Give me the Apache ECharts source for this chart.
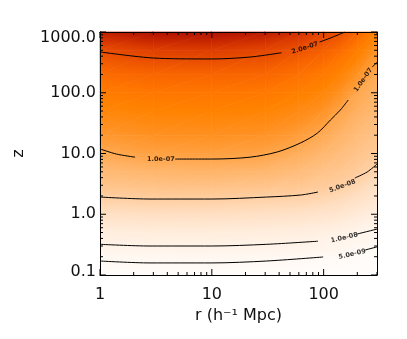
<!DOCTYPE html>
<html>
<head>
<meta charset="utf-8">
<script src="https://cdn.jsdelivr.net/npm/echarts@6/dist/echarts.min.js"></script>
<style>
  html, body { margin: 0; padding: 0; background: #fff; }
  #chart { width: 407px; height: 339px; }
</style>
</head>
<body>
<div id="chart"></div>
<script>
// axis ranges
const rMin = 1, rMax = 300
const zMin = 0.1, zMax = 1000

// nodes of the shaded field
const rNodes = [1, 3, 10, 30, 60, 100, 140, 200, 300]
const zNodes = [0.1, 0.2, 0.5, 1, 2, 5, 10, 20, 50, 100, 200, 500, 1000]

// field value (units of 1e-8) along z, one list per r node
const fieldR1 = [0.28, 0.63, 2.0, 3.55, 5.1, 7.6, 9.5, 11.4, 13.9, 15.8, 17.7, 20.2, 23.5]
const fieldR3 = [0.3, 0.68, 2.15, 3.7, 5.4, 8.2, 10.4, 12.3, 14.7, 16.5, 18.3, 21.3, 24.5]
const fieldR10 = [0.3, 0.68, 2.15, 3.7, 5.4, 8.4, 10.55, 12.4, 14.8, 16.6, 18.4, 21.5, 24.5]
const fieldR30 = [0.28, 0.63, 2.0, 3.55, 5.1, 8.0, 10.2, 12.0, 14.5, 16.3, 18.2, 20.8, 23.8]
const fieldR60 = [0.26, 0.59, 1.9, 3.4, 4.95, 7.3, 9.05, 10.9, 13.4, 15.3, 17.2, 19.8, 22.5]
const fieldR100 = [0.23, 0.5, 1.65, 3.1, 4.6, 6.5, 8.0, 9.45, 12.0, 14.1, 16.1, 18.9, 21.0]
const fieldR140 = [0.23, 0.48, 1.4, 2.85, 4.3, 6.0, 7.2, 8.4, 10.0, 12.3, 14.6, 17.7, 20.0]
const fieldR200 = [0.19, 0.39, 1.08, 2.4, 3.7, 5.3, 6.4, 7.4, 8.8, 9.8, 12.1, 15.7, 18.4]
const fieldR300 = [0.17, 0.34, 0.9, 1.9, 3.0, 4.5, 5.5, 6.4, 7.6, 8.5, 9.4, 11.9, 15.0]
const fieldCols = [fieldR1, fieldR3, fieldR10, fieldR30, fieldR60, fieldR100, fieldR140, fieldR200, fieldR300]

// contour lines [r, z], split where the label sits
const c2e7 = [
  [[1, 469], [2, 400], [3, 373], [5, 362], [10, 360], [22, 387], [42, 456]],
  [[92, 684], [115, 797], [155, 1000]],
]
const c1e7 = [
  [[1, 11.9], [1.4, 9.8], [2.06, 8.7]],
  [[4.7, 8.1], [10, 8.1], [22, 8.7], [38.5, 10.6], [62, 14.9], [88, 21.7], [115, 35.6], [141, 52], [166, 76]],
  [[272, 265], [300, 318]],
]
const c5e8 = [
  [[1, 1.92], [2.8, 1.78], [10, 1.78], [31, 1.92], [62, 2.07], [89, 2.32]],
  [[190, 3.95], [245, 4.96], [300, 6.7]],
]
const c1e8 = [
  [[1, 0.32], [2.8, 0.30], [10, 0.30], [31, 0.32], [89, 0.36]],
  [[197, 0.47], [300, 0.57]],
]
const c5e9 = [
  [[1, 0.17], [2.8, 0.158], [10, 0.158], [31, 0.17], [99, 0.198]],
  [[235, 0.258], [300, 0.29]],
]

// contour labels
const labelText = ['2.0e-07', '1.0e-07', '1.0e-07', '5.0e-08', '1.0e-08', '5.0e-09']
const labelPos = [[68, 546], [3.5, 8.1], [226, 162], [147, 2.9], [153, 0.41], [180, 0.22]]
const labelAngle = [18, 0, 55, 20, 13, 13]

// tick values
const majorR = [1, 10, 100]
const minorR = [2, 3, 4, 5, 6, 7, 8, 9, 20, 30, 40, 50, 60, 70, 80, 90, 200, 300]
const majorZ = [0.1, 1, 10, 100, 1000]
const minorZ = [0.2, 0.3, 0.4, 0.5, 0.6, 0.7, 0.8, 0.9, 2, 3, 4, 5, 6, 7, 8, 9,
  20, 30, 40, 50, 60, 70, 80, 90, 200, 300, 400, 500, 600, 700, 800, 900]

// colour table (field value -> colour)
const rampF = [0, 0.3, 0.7, 2.1, 3.7, 5.4, 8.4, 10.5, 12.4, 14.8, 16.6, 18.4, 21.5, 24.5]
const rampC = ['#ffffff', '#fffcf9', '#fff7f0', '#ffeddd', '#ffdfc2', '#ffcb9a', '#ffb468',
  '#ffa040', '#ff9020', '#ff8200', '#ff7600', '#f86400', '#dd3c00', '#b01000']

const FONT = 'DejaVu Sans'

function hexRgb(h) {
  return [parseInt(h.slice(1, 3), 16), parseInt(h.slice(3, 5), 16), parseInt(h.slice(5, 7), 16)]
}
const rampRgb = rampC.map(hexRgb)

function rampColor(v) {
  if (v <= rampF[0]) return rampC[0]
  const n = rampF.length
  if (v >= rampF[n - 1]) return rampC[n - 1]
  let k = 0
  while (v > rampF[k + 1]) k++
  const t = (v - rampF[k]) / (rampF[k + 1] - rampF[k])
  const a = rampRgb[k], b = rampRgb[k + 1]
  const c = a.map((x, i) => Math.round(x + (b[i] - x) * t))
  return `rgb(${c[0]},${c[1]},${c[2]})`
}

// linear shading across a triangle: gradient along the direction the value changes
function triangleFill(p, v) {
  const e2x = p[1][0] - p[0][0], e2y = p[1][1] - p[0][1]
  const e3x = p[2][0] - p[0][0], e3y = p[2][1] - p[0][1]
  const d2 = v[1] - v[0], d3 = v[2] - v[0]
  const det = e2x * e3y - e2y * e3x
  const lo = Math.min(...v), hi = Math.max(...v)
  if (Math.abs(det) < 1e-9 || hi - lo < 1e-6) return rampColor(lo)
  const gx = (d2 * e3y - d3 * e2y) / det
  const gy = (e2x * d3 - e3x * d2) / det
  const g2 = gx * gx + gy * gy
  const a = (lo - v[0]) / g2, b = (hi - v[0]) / g2
  const stops = [{ offset: 0, color: rampColor(lo) }]
  rampF.forEach((f) => {
    if (f > lo && f < hi) stops.push({ offset: (f - lo) / (hi - lo), color: rampColor(f) })
  })
  stops.push({ offset: 1, color: rampColor(hi) })
  return new echarts.graphic.LinearGradient(
    p[0][0] + gx * a, p[0][1] + gy * a, p[0][0] + gx * b, p[0][1] + gy * b, stops, true)
}

// two triangles per grid cell
const triangles = []
for (let i = 0; i < rNodes.length - 1; i++) {
  for (let j = 0; j < zNodes.length - 1; j++) {
    const A = [rNodes[i], zNodes[j], fieldCols[i][j]]
    const B = [rNodes[i + 1], zNodes[j], fieldCols[i + 1][j]]
    const C = [rNodes[i + 1], zNodes[j + 1], fieldCols[i + 1][j + 1]]
    const D = [rNodes[i], zNodes[j + 1], fieldCols[i][j + 1]]
    triangles.push([...A, ...B, ...C], [...A, ...C, ...D])
  }
}

const xTicks = majorR.map(r => [r, zMin, 1]).concat(minorR.map(r => [r, zMin, 0]))
const yTicks = majorZ.map(z => [rMin, z, 1]).concat(minorZ.map(z => [rMin, z, 0]))

const chart = echarts.init(document.getElementById('chart'), null, { renderer: 'canvas' })

const contourSeries = []
;[c2e7, c1e7, c5e8, c1e8, c5e9].forEach((segs) => {
  segs.forEach((seg) => {
    contourSeries.push({
      type: 'line',
      data: seg,
      smooth: 0.3,
      showSymbol: false,
      symbol: 'none',
      lineStyle: { color: '#000', width: 1 },
      silent: true,
      z: 3,
    })
  })
})

const axisBase = {
  type: 'log',
  logBase: 10,
  z: 5,
  axisLine: { show: true, lineStyle: { color: '#000', width: 1 } },
  axisTick: { show: false },
  splitLine: { show: false },
}

const option = {
  animation: false,
  backgroundColor: '#fff',
  grid: { left: 100, top: 32, width: 277, height: 243 },
  xAxis: [{
    ...axisBase,
    min: rMin,
    max: rMax,
    position: 'bottom',
    axisLabel: {
      color: '#111',
      fontFamily: FONT,
      fontSize: 16,
      margin: 12,
      showMaxLabel: false,
      formatter: v => String(Math.round(v)),
    },
    name: 'r (h⁻¹ Mpc)',
    nameLocation: 'middle',
    nameGap: 33,
    nameTextStyle: { color: '#111', fontFamily: FONT, fontSize: 16 },
  }, {
    ...axisBase,
    min: rMin,
    max: rMax,
    position: 'top',
    axisLabel: { show: false },
  }],
  yAxis: [{
    ...axisBase,
    min: zMin,
    max: zMax,
    position: 'left',
    axisLabel: {
      color: '#111',
      fontFamily: FONT,
      fontSize: 16,
      margin: 4,
      showMinLabel: true,
      showMaxLabel: true,
      formatter: (v) => {
        const s = Number(v).toFixed(1)
        if (v >= zMax * 0.99) return `{top|${s}}`
        if (v <= zMin * 1.01) return `{bot|${s}}`
        return s
      },
      rich: {
        top: { fontFamily: FONT, fontSize: 16, color: '#111', padding: [11, 0, 0, 0] },
        bot: { fontFamily: FONT, fontSize: 16, color: '#111', padding: [0, 0, 6, 0] },
      },
    },
    name: 'z',
    nameLocation: 'middle',
    nameGap: 73,
    nameTextStyle: { color: '#111', fontFamily: FONT, fontSize: 16 },
  }, {
    ...axisBase,
    min: zMin,
    max: zMax,
    position: 'right',
    axisLabel: { show: false },
  }],
  series: [{
    type: 'custom',
    name: 'field',
    silent: true,
    z: 1,
    encode: { x: [0, 3, 6], y: [1, 4, 7] },
    data: triangles,
    renderItem(params, api) {
      const pts = [0, 1, 2].map(k => api.coord([api.value(3 * k), api.value(3 * k + 1)]))
      const vals = [0, 1, 2].map(k => api.value(3 * k + 2))
      const fill = triangleFill(pts, vals)
      return {
        type: 'polygon',
        shape: { points: pts },
        style: { fill, stroke: fill, lineWidth: 0.7, lineJoin: 'round' },
      }
    },
  },
  ...contourSeries,
  {
    type: 'scatter',
    symbolSize: 0,
    silent: true,
    z: 4,
    data: labelPos.map((p, i) => ({
      value: p,
      name: labelText[i],
      label: { rotate: labelAngle[i] },
    })),
    label: {
      show: true,
      position: 'inside',
      formatter: '{b}',
      color: '#000',
      fontFamily: FONT,
      fontSize: 6.5,
      fontWeight: 'bold',
    },
  }, {
    type: 'custom',
    silent: true,
    z: 6,
    encode: { x: 0, y: 1 },
    data: xTicks,
    renderItem(params, api) {
      const len = api.value(2) ? 6 : 3
      const b = api.coord([api.value(0), zMin])
      const t = api.coord([api.value(0), zMax])
      const style = { stroke: '#000', lineWidth: 1 }
      return {
        type: 'group',
        children: [
          { type: 'line', shape: { x1: b[0], y1: b[1], x2: b[0], y2: b[1] - len }, style },
          { type: 'line', shape: { x1: t[0], y1: t[1], x2: t[0], y2: t[1] + len }, style },
        ],
      }
    },
  }, {
    type: 'custom',
    silent: true,
    z: 6,
    encode: { x: 0, y: 1 },
    data: yTicks,
    renderItem(params, api) {
      const len = api.value(2) ? 6 : 3
      const l = api.coord([rMin, api.value(1)])
      const r = api.coord([rMax, api.value(1)])
      const style = { stroke: '#000', lineWidth: 1 }
      return {
        type: 'group',
        children: [
          { type: 'line', shape: { x1: l[0], y1: l[1], x2: l[0] + len, y2: l[1] }, style },
          { type: 'line', shape: { x1: r[0], y1: r[1], x2: r[0] - len, y2: r[1] }, style },
        ],
      }
    },
  }],
}

chart.setOption(option)
</script>
</body>
</html>
